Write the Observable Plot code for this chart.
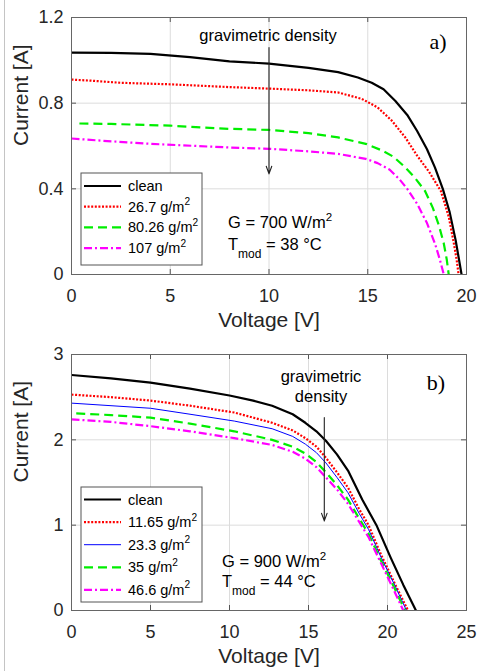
<!DOCTYPE html>
<html>
<head>
<meta charset="utf-8">
<script src="https://cdn.jsdelivr.net/npm/d3@7"></script>
<script src="https://cdn.jsdelivr.net/npm/@observablehq/plot@0.6"></script>
<style>
  body { margin: 0; background: #fff; }
  #wrap { position: relative; width: 478px; height: 671px; overflow: hidden; background: #fff; }
  #wrap svg { display: block; }
  #edge { position: absolute; left: 4px; top: 0; width: 1px; height: 671px; background: #c4c4c4; }
</style>
</head>
<body>
<div id="wrap"><div id="edge"></div></div>
<script>
// ---------- Panel a) data (G = 700 W/m2) ----------
const aXTicks = [0, 5, 10, 15, 20];
const aYTicks = [0, 0.4, 0.8, 1.2];
const aLabels = ["clean", "26.7 g/m^2", "80.26 g/m^2", "107 g/m^2"];
const aCleanV = [0, 2, 4, 6, 8, 10, 12, 13.5, 14.5, 15.2, 15.8, 16.4, 17, 17.5, 18, 18.4, 18.8, 19.15, 19.45, 19.62, 19.75];
const aCleanI = [1.036, 1.035, 1.03, 1.015, 0.995, 0.985, 0.965, 0.945, 0.92, 0.895, 0.865, 0.81, 0.745, 0.67, 0.585, 0.5, 0.4, 0.29, 0.16, 0.07, 0];
const aRedV = [0, 1, 2.5, 5, 8, 10, 12, 13.5, 14.7, 15.5, 16.2, 16.9, 17.5, 18.1, 18.7, 19.1, 19.35, 19.5, 19.6];
const aRedI = [0.91, 0.905, 0.895, 0.888, 0.875, 0.868, 0.86, 0.85, 0.82, 0.78, 0.72, 0.64, 0.555, 0.48, 0.39, 0.27, 0.15, 0.07, 0];
const aGreenV = [0.4, 2, 5, 8, 10, 12, 13.5, 14.9, 15.7, 16.3, 16.9, 17.4, 17.9, 18.3, 18.6, 18.85, 19.0, 19.1];
const aGreenI = [0.705, 0.703, 0.695, 0.68, 0.675, 0.66, 0.64, 0.61, 0.58, 0.55, 0.5, 0.45, 0.39, 0.31, 0.23, 0.145, 0.07, 0];
const aMagV = [0, 1.5, 4, 8, 10, 12, 13.5, 14.9, 15.5, 16.1, 16.6, 17, 17.5, 18, 18.4, 18.65, 18.85];
const aMagI = [0.635, 0.625, 0.61, 0.593, 0.587, 0.575, 0.563, 0.54, 0.52, 0.49, 0.445, 0.4, 0.33, 0.24, 0.145, 0.07, 0];
const aArrow = [{x1: 10, y1: 1.06, x2: 10, y2: 0.47}];

// ---------- Panel b) data (G = 900 W/m2) ----------
const bXTicks = [0, 5, 10, 15, 20, 25];
const bYTicks = [0, 1, 2, 3];
const bLabels = ["clean", "11.65 g/m^2", "23.3 g/m^2", "35 g/m^2", "46.6 g/m^2"];
const bCleanV = [0, 2.5, 5, 7.5, 10, 11.5, 12.7, 14, 14.8, 15.5, 16.1, 16.8, 17.5, 18.4, 19.3, 20.2, 21, 21.8];
const bCleanI = [2.76, 2.72, 2.67, 2.6, 2.52, 2.46, 2.4, 2.3, 2.2, 2.1, 1.99, 1.83, 1.64, 1.3, 1.0, 0.62, 0.3, 0];
const bRedV = [0, 2.5, 5, 7.5, 10.3, 12.7, 14, 14.8, 15.5, 16.1, 16.8, 17.5, 18.2, 18.8, 19.6, 20.5, 21.3];
const bRedI = [2.53, 2.5, 2.46, 2.4, 2.32, 2.2, 2.11, 2.02, 1.92, 1.79, 1.62, 1.44, 1.19, 1.0, 0.65, 0.3, 0];
const bBlueV = [0, 2.5, 5, 7.5, 10.3, 12.7, 14, 14.8, 15.5, 16.1, 16.8, 17.5, 18.2, 18.8, 19.6, 20.5, 21.2];
const bBlueI = [2.43, 2.4, 2.37, 2.3, 2.22, 2.13, 2.04, 1.95, 1.85, 1.73, 1.56, 1.38, 1.14, 0.95, 0.62, 0.28, 0];
const bGreenV = [0.3, 2.5, 5, 7.5, 10.3, 12.7, 14, 14.8, 15.5, 16.1, 16.8, 17.5, 18.2, 18.8, 19.6, 20.5, 21.1];
const bGreenI = [2.31, 2.29, 2.26, 2.19, 2.1, 2.0, 1.92, 1.84, 1.74, 1.62, 1.47, 1.3, 1.08, 0.9, 0.58, 0.24, 0];
const bMagV = [0, 2.5, 5, 7.5, 10.3, 12.7, 14, 14.8, 15.5, 16.1, 16.8, 17.5, 18.2, 18.8, 19.6, 20.5, 21.0];
const bMagI = [2.24, 2.21, 2.16, 2.1, 2.02, 1.94, 1.86, 1.78, 1.68, 1.56, 1.42, 1.25, 1.04, 0.86, 0.55, 0.2, 0];
const bArrow = [{x1: 16, y1: 2.26, x2: 16, y2: 1.05}];

// ---------- styles ----------
const FONT = "'Liberation Sans', Arial, Helvetica, sans-serif";
const STY = {
  clean: {stroke: "#000000", strokeWidth: 2.2, dash: null},
  red:   {stroke: "#ff0000", strokeWidth: 2.2, dash: "2,1.6"},
  blue:  {stroke: "#0000ff", strokeWidth: 1, dash: null},
  green: {stroke: "#00ee00", strokeWidth: 2.2, dash: "9,5"},
  mag:   {stroke: "#ff00ff", strokeWidth: 2.2, dash: "8,3,2,3"}
};

function zip(V, I) { return V.map((v, i) => ({V: v, I: I[i]})); }

function makePanel(cfg) {
  const plotW = cfg.width - cfg.marginLeft - cfg.marginRight;
  const plotH = cfg.height - cfg.marginTop - cfg.marginBottom;
  const fmt = d => String(d);
  const marks = [
    Plot.gridX(cfg.xTicks, {stroke: "#dcdcdc", strokeOpacity: 1}),
    Plot.gridY(cfg.yTicks, {stroke: "#dcdcdc", strokeOpacity: 1}),
    // inward tick marks (MATLAB style)
    Plot.ruleX(cfg.xTicks, {x: d => d, insetTop: plotH - 5, stroke: "#555"}),
    Plot.ruleX(cfg.xTicks, {x: d => d, insetBottom: plotH - 5, stroke: "#555"}),
    Plot.ruleY(cfg.yTicks, {y: d => d, insetRight: plotW - 5, stroke: "#555"}),
    Plot.ruleY(cfg.yTicks, {y: d => d, insetLeft: plotW - 5, stroke: "#555"}),
    Plot.axisX(cfg.xTicks, {tickSize: 0, tickPadding: 15, fontSize: 18, label: null, tickFormat: fmt, fill: "#262626"}),
    Plot.axisY(cfg.yTicks, {tickSize: 0, tickPadding: 8, fontSize: 18, label: null, tickFormat: fmt, fill: "#262626"}),
    Plot.text(["Voltage [V]"], {frameAnchor: "bottom", dy: cfg.xLabelDy, fontSize: 21, fill: "#262626"}),
    Plot.text(["Current [A]"], {frameAnchor: "left", dx: -50, rotate: -90, fontSize: 21, fill: "#262626"})
  ];
  cfg.series.forEach(s => {
    marks.push(Plot.line(s.data, {
      x: "V", y: "I", stroke: s.style.stroke, strokeWidth: s.style.strokeWidth,
      strokeDasharray: s.style.dash, strokeLinecap: "butt", strokeLinejoin: "round"
    }));
  });
  marks.push(Plot.arrow(cfg.arrow, {x1: "x1", y1: "y1", x2: "x2", y2: "y2",
    stroke: "#222", strokeWidth: 1.1, headLength: 11, headAngle: 40}));
  marks.push(Plot.frame({stroke: "#666", strokeWidth: 1}));

  const svg = Plot.plot({
    width: cfg.width, height: cfg.height,
    marginTop: cfg.marginTop, marginBottom: cfg.marginBottom,
    marginLeft: cfg.marginLeft, marginRight: cfg.marginRight,
    style: {fontFamily: FONT, background: "#fff", color: "#262626"},
    x: {domain: cfg.xDomain, axis: null},
    y: {domain: cfg.yDomain, axis: null},
    marks
  });
  return svg;
}

function addSupText(sel, str, fs) {
  const parts = str.split("^");
  sel.append("tspan").text(parts[0]);
  if (parts.length > 1) {
    sel.append("tspan").attr("dy", -0.45 * fs).attr("font-size", fs * 0.7).text(parts[1]);
  }
}

function addLegend(svg, series, box) {
  const g = d3.select(svg).append("g").attr("font-family", FONT).attr("font-size", 14.5)
    .attr("text-anchor", "start");
  g.append("rect").attr("x", box.x).attr("y", box.y).attr("width", box.w).attr("height", box.h)
    .attr("fill", "#fff").attr("stroke", "#555").attr("stroke-width", 1);
  series.forEach((s, i) => {
    const cy = box.y + box.first + i * box.step;
    g.append("line").attr("x1", box.x + 3).attr("x2", box.x + 40).attr("y1", cy).attr("y2", cy)
      .attr("stroke", s.style.stroke).attr("stroke-width", s.style.strokeWidth)
      .attr("stroke-dasharray", s.style.dash);
    const t = g.append("text").attr("x", box.x + 47).attr("y", cy + 5).attr("fill", "#000")
      .attr("text-anchor", "start");
    addSupText(t, s.label, 14.5);
  });
}

function addConditions(svg, p, G, T) {
  const g = d3.select(svg).append("g").attr("font-family", FONT).attr("font-size", 16.5)
    .attr("fill", "#000").attr("text-anchor", "start");
  const t1 = g.append("text").attr("x", p.x).attr("y", p.y1).attr("text-anchor", "start");
  addSupText(t1, "G = " + G + " W/m^2", 16.5);
  const t2 = g.append("text").attr("x", p.x).attr("y", p.y2).attr("text-anchor", "start");
  t2.append("tspan").text("T");
  t2.append("tspan").attr("dy", 8).attr("font-size", 12).text("mod");
  t2.append("tspan").attr("dy", -8).text(" = " + T + " °C");
}

function addText(svg, lines, p, font, size) {
  const g = d3.select(svg).append("g").attr("font-family", font).attr("font-size", size).attr("fill", "#000");
  lines.forEach((l, i) => {
    g.append("text").attr("x", p.x).attr("y", p.y + i * p.step).attr("text-anchor", "middle").text(l);
  });
}

const wrap = document.getElementById("wrap");

// ---- panel a ----
const aSeries = [
  {label: aLabels[0], data: zip(aCleanV, aCleanI), style: STY.clean},
  {label: aLabels[1], data: zip(aRedV, aRedI), style: STY.red},
  {label: aLabels[2], data: zip(aGreenV, aGreenI), style: STY.green},
  {label: aLabels[3], data: zip(aMagV, aMagI), style: STY.mag}
];
const svgA = makePanel({
  width: 478, height: 336, marginTop: 17, marginBottom: 62, marginLeft: 71, marginRight: 12,
  xDomain: [0, 20], yDomain: [0, 1.2], xTicks: aXTicks, yTicks: aYTicks, xLabelDy: 52,
  series: aSeries, arrow: aArrow
});
addLegend(svgA, aSeries, {x: 81, y: 173, w: 121, h: 92, first: 13, step: 20.7});
addConditions(svgA, {x: 228, y1: 228, y2: 250}, "700", "38");
addText(svgA, ["gravimetric density"], {x: 268, y: 41, step: 0}, FONT, 16.5);
addText(svgA, ["a)"], {x: 438, y: 49, step: 0}, "'Liberation Serif', 'Times New Roman', serif", 22);
wrap.appendChild(svgA);

// ---- panel b ----
const bSeries = [
  {label: bLabels[0], data: zip(bCleanV, bCleanI), style: STY.clean},
  {label: bLabels[1], data: zip(bRedV, bRedI), style: STY.red},
  {label: bLabels[2], data: zip(bBlueV, bBlueI), style: STY.blue},
  {label: bLabels[3], data: zip(bGreenV, bGreenI), style: STY.green},
  {label: bLabels[4], data: zip(bMagV, bMagI), style: STY.mag}
];
const svgB = makePanel({
  width: 478, height: 335, marginTop: 18, marginBottom: 61, marginLeft: 71, marginRight: 12,
  xDomain: [0, 25], yDomain: [0, 3], xTicks: bXTicks, yTicks: bYTicks, xLabelDy: 52,
  series: bSeries, arrow: bArrow
});
addLegend(svgB, bSeries, {x: 81, y: 151, w: 121, h: 115, first: 12.5, step: 22.6});
addConditions(svgB, {x: 222, y1: 231, y2: 251}, "900", "44");
addText(svgB, ["gravimetric", "density"], {x: 321, y: 46, step: 20}, FONT, 16.5);
addText(svgB, ["b)"], {x: 436, y: 54, step: 0}, "'Liberation Serif', 'Times New Roman', serif", 22);
wrap.appendChild(svgB);
</script>
</body>
</html>
